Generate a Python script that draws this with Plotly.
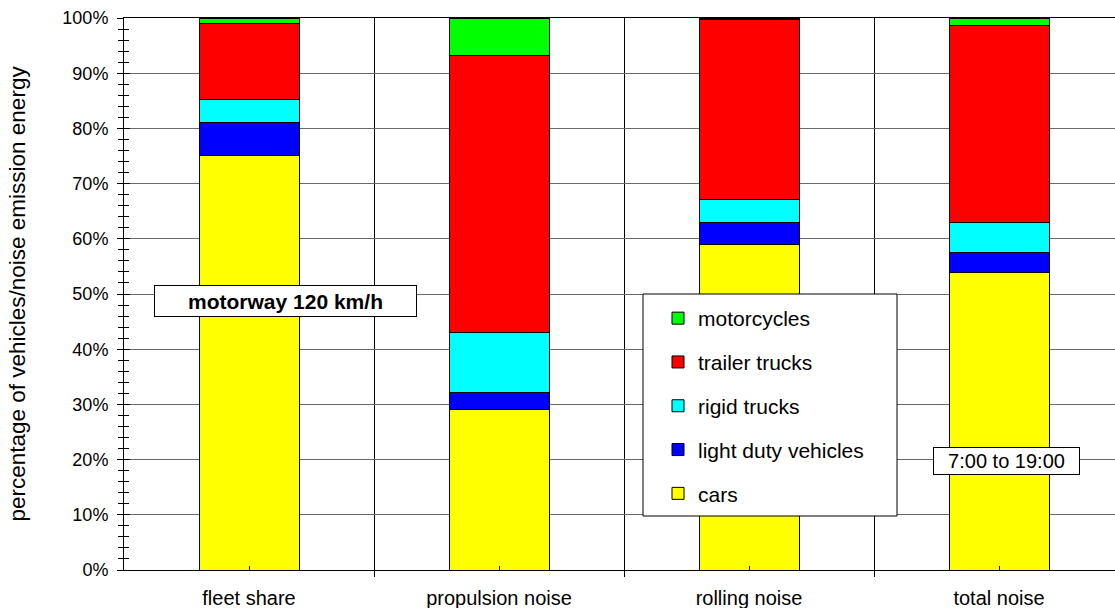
import plotly.graph_objects as go

# ── Data (percent of vehicles / noise emission energy) ──────────────────────
categories = ["fleet share", "propulsion noise", "rolling noise", "total noise"]
cars        = [75.1, 29.1, 58.9, 53.9]
light_duty  = [6.0, 3.0, 4.0, 3.7]
rigid       = [4.1, 10.9, 4.3, 5.4]
trailer     = [13.8, 50.2, 32.6, 35.7]
motorcycles = [1.0, 6.8, 0.2, 1.3]

series = [
    ("cars", cars, "#FFFF00"),
    ("light duty vehicles", light_duty, "#0000FF"),
    ("rigid trucks", rigid, "#00FFFF"),
    ("trailer trucks", trailer, "#FF0000"),
    ("motorcycles", motorcycles, "#00FF00"),
]

FONT = "Arial, Liberation Sans, sans-serif"
W, H = 1115, 608
ML, MR, MT, MB = 124, 0, 18, 38
PW, PH = W - ML - MR, H - MT - MB
xpos = list(range(len(categories)))
x_hi = -0.5 + PW / 250.0

fig = go.Figure()
for i, (name, vals, col) in enumerate(series):
    fig.add_trace(go.Bar(
        x=xpos, y=vals, name=name, legendgroup=name,
        legendrank=len(series) - i,
        width=0.4,
        marker=dict(color=col, line=dict(color="black", width=1)),
    ))

# dummy trace so the overlay axis (inside half of the cross ticks) is drawn
fig.add_trace(go.Scatter(x=[None], y=[None], yaxis="y2", showlegend=False,
                         hoverinfo="skip"))

fig.update_layout(
    width=W, height=H,
    margin=dict(l=ML, r=MR, t=MT, b=MB, autoexpand=False),
    barmode="stack",
    plot_bgcolor="white", paper_bgcolor="white",
    font=dict(family=FONT, size=19, color="black"),
    showlegend=True,
    legend=dict(
        x=(658 - ML) / PW, xanchor="left",
        y=1 - (298 - MT) / PH, yanchor="top",
        bgcolor="rgba(0,0,0,0)", borderwidth=0,
        traceorder="grouped", tracegroupgap=13.5,
        font=dict(size=21),
    ),
    xaxis=dict(
        range=[-0.5, x_hi], automargin=False,
        tickmode="array", tickvals=xpos, ticktext=categories,
        ticks="inside", ticklen=4, tickcolor="black",
        showgrid=False, zeroline=False,
        showline=True, linecolor="black", linewidth=1, mirror=True,
        ticklabelstandoff=10,
        tickfont=dict(size=20),
        minor=dict(tick0=0.5, dtick=1, ticks="outside", ticklen=6,
                   tickcolor="black", showgrid=True, gridcolor="black",
                   gridwidth=1),
    ),
    yaxis=dict(
        range=[0, 100], automargin=False,
        tickmode="linear", tick0=0, dtick=10, ticksuffix="%",
        ticks="outside", ticklen=6, tickcolor="black",
        showgrid=True, gridcolor="#6a6a6a", gridwidth=1,
        zeroline=False, showline=True, linecolor="black", linewidth=1,
        ticklabelstandoff=5,
        tickfont=dict(size=18),
        minor=dict(dtick=2, ticks="outside", ticklen=5, tickcolor="black",
                   showgrid=False),
        title=dict(text="percentage of vehicles/noise emission energy",
                   font=dict(size=22.5), standoff=30),
    ),
    yaxis2=dict(
        overlaying="y", side="left", range=[0, 100], automargin=False,
        tickmode="linear", tick0=0, dtick=10,
        ticks="inside", ticklen=6, tickcolor="black",
        showticklabels=False, showgrid=False, zeroline=False, showline=False,
        minor=dict(dtick=2, ticks="inside", ticklen=5, tickcolor="black",
                   showgrid=False),
    ),
    shapes=[
        # legend frame
        dict(type="rect", xref="paper", yref="paper",
             x0=(643 - ML) / PW, x1=(897 - ML) / PW,
             y0=1 - (516 - MT) / PH, y1=1 - (294 - MT) / PH,
             fillcolor="white", line=dict(color="black", width=1),
             layer="above"),
    ],
    annotations=[
        dict(x=0.146, y=48.7, xref="x", yref="y",
             text="<b>motorway 120 km/h</b>", showarrow=False,
             font=dict(size=21), bgcolor="white",
             bordercolor="black", borderwidth=1, borderpad=0,
             width=261, height=30),
        dict(x=3.031, y=19.7, xref="x", yref="y",
             text="7:00 to 19:00", showarrow=False,
             font=dict(size=20), bgcolor="white",
             bordercolor="black", borderwidth=1, borderpad=0,
             width=145, height=26),
    ],
)

# page body has a default 8px margin; remove it so the figure fills the window
fig.write_html("out.html",
               config={"displayModeBar": False},
               post_script="document.body.style.margin='0';"
                           "document.body.style.overflow='hidden';")
